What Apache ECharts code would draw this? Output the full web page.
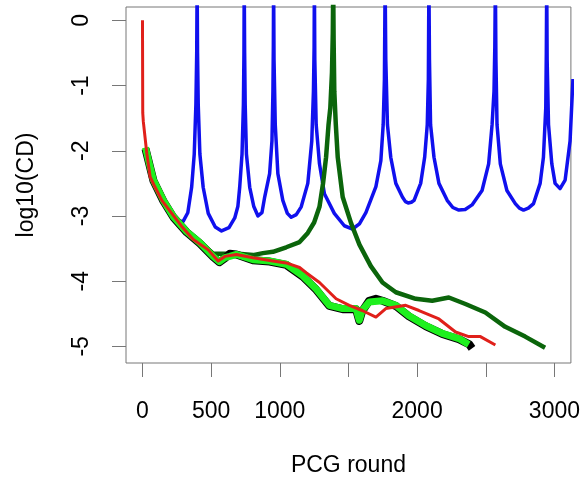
<!DOCTYPE html>
<html>
<head>
<meta charset="utf-8">
<script src="https://cdn.jsdelivr.net/npm/echarts@6/dist/echarts.min.js"></script>
<style>html,body{margin:0;padding:0;background:#fff;}#chart{width:583px;height:482px;}</style>
</head>
<body>
<div id="chart"></div>
<script>
// Tick values / labels
const xTicks = [0, 500, 1000, 1500, 2000, 2500, 3000];
const xTickLabels = [0, 500, 1000, 2000, 3000];
const yTicks = [-5, -4, -3, -2, -1, 0];

// Series values: [PCG round, log10(CD)]
const blueSeries = [
  [30,-2.0],[80,-2.45],[150,-2.76],[200,-2.95],[240,-3.04],[270,-3.08],[297,-3.08],[330,-2.95],[358,-2.56],[377,-2.05],[389,-1.29],[395,-0.5],[398,0.6],
  [401,-0.5],[406,-1.29],[418,-2.05],[442,-2.56],[479,-2.96],[530,-3.17],[576,-3.23],[630,-3.18],[672,-3.03],[695,-2.85],[708,-2.56],[725,-2.05],[735,-1.29],[739,-0.5],[741,0.6],
  [744,-0.5],[748,-1.29],[757,-2.05],[781,-2.56],[810,-2.85],[841,-3.0],[870,-2.95],[890,-2.71],[926,-2.35],[943,-1.85],[950,-1.09],[953,-0.4],[955,0.6],
  [958,-0.6],[967,-1.6],[986,-2.35],[1022,-2.76],[1055,-2.96],[1083,-3.02],[1120,-2.98],[1156,-2.86],[1204,-2.5],[1233,-1.85],[1245,-1.09],[1250,-0.4],[1252,0.6],
  [1255,-0.6],[1265,-1.6],[1289,-2.2],[1325,-2.66],[1397,-2.96],[1470,-3.15],[1530,-3.2],[1580,-3.12],[1627,-2.95],[1700,-2.55],[1736,-2.15],[1753,-1.6],[1762,-0.9],[1767,0.6],
  [1772,-0.6],[1784,-1.6],[1808,-2.1],[1845,-2.5],[1893,-2.71],[1915,-2.78],[1935,-2.8],[1958,-2.79],[1978,-2.76],[2026,-2.5],[2055,-2.1],[2074,-1.6],[2082,-0.9],[2086,0.6],
  [2090,-0.6],[2098,-1.6],[2123,-2.1],[2159,-2.5],[2219,-2.76],[2260,-2.87],[2304,-2.91],[2350,-2.9],[2400,-2.83],[2473,-2.61],[2521,-2.2],[2546,-1.6],[2560,-1.09],[2566,-0.4],[2570,0.6],
  [2574,-0.6],[2582,-1.6],[2606,-2.2],[2654,-2.61],[2715,-2.81],[2745,-2.88],[2775,-2.91],[2810,-2.88],[2848,-2.81],[2896,-2.5],[2920,-2.1],[2937,-1.34],[2941,-0.5],[2944,0.6],
  [2947,-0.6],[2957,-1.6],[2981,-2.2],[3005,-2.5],[3041,-2.58],[3078,-2.45],[3114,-1.85],[3135,-0.9]
];

const darkGreenSeries = [
  [30,-2.0],[80,-2.45],[152,-2.76],[225,-3.0],[322,-3.24],[418,-3.4],[515,-3.58],[600,-3.58],[700,-3.58],[805,-3.6],[877,-3.57],[950,-3.55],
  [1047,-3.48],[1144,-3.4],[1204,-3.26],[1250,-3.1],[1289,-2.86],[1315,-2.5],[1337,-2.1],[1355,-1.6],[1368,-1.34],[1380,-0.8],[1386,-0.2],[1389,0.5],
  [1392,-0.3],[1397,-1.09],[1408,-1.6],[1422,-2.1],[1458,-2.71],[1519,-3.11],[1580,-3.44],[1663,-3.77],[1748,-4.02],[1845,-4.17],[1990,-4.27],
  [2110,-4.3],[2231,-4.25],[2352,-4.35],[2497,-4.48],[2642,-4.7],[2787,-4.85],[2932,-5.02]
];

const blackSeries = [
  [22,-1.97],[80,-2.46],[152,-2.77],[225,-3.02],[322,-3.25],[418,-3.42],[515,-3.63],[560,-3.71],[600,-3.65],[636,-3.58],[684,-3.59],
  [805,-3.68],[926,-3.7],[1047,-3.75],[1168,-3.93],[1265,-4.13],[1361,-4.38],[1458,-4.43],[1555,-4.43],[1579,-4.61],[1600,-4.46],[1651,-4.3],
  [1700,-4.27],[1748,-4.3],[1845,-4.38],[1941,-4.54],[2062,-4.69],[2183,-4.81],[2304,-4.89],[2380,-4.97],[2400,-5.03]
];

const greenSeries = [
  [22,-1.95],[50,-2.2],[80,-2.45],[152,-2.76],[225,-3.01],[322,-3.24],[418,-3.41],[515,-3.62],[560,-3.7],[600,-3.64],[636,-3.62],[684,-3.59],
  [805,-3.67],[926,-3.69],[1047,-3.74],[1168,-3.92],[1265,-4.12],[1361,-4.37],[1458,-4.42],[1555,-4.42],[1579,-4.6],[1600,-4.45],[1651,-4.32],
  [1748,-4.3],[1845,-4.37],[1941,-4.53],[2062,-4.68],[2183,-4.8],[2304,-4.88],[2376,-4.97]
];

const redSeries = [
  [0,0],[2,-1.42],[6,-1.55],[32,-2.05],[56,-2.4],[92,-2.56],[141,-2.76],[213,-2.96],[286,-3.16],[370,-3.36],[479,-3.52],[551,-3.69],[600,-3.62],
  [684,-3.59],[805,-3.64],[950,-3.69],[1047,-3.72],[1144,-3.79],[1192,-3.87],[1289,-4.02],[1410,-4.27],[1506,-4.37],[1600,-4.45],[1700,-4.55],
  [1772,-4.42],[1917,-4.37],[2014,-4.45],[2159,-4.58],[2280,-4.78],[2376,-4.85],[2461,-4.85],[2570,-4.98]
];

const font = "'Liberation Sans', Arial, Helvetica, sans-serif";
const chart = echarts.init(document.getElementById('chart'), null, {renderer: 'canvas'});

function line(data, color, width) {
  return {
    type: 'line', data: data, showSymbol: false, symbol: 'none', clip: true,
    lineStyle: {color: color, width: width, join: 'round'},
    itemStyle: {color: color}, silent: true
  };
}

chart.setOption({
  animation: false,
  backgroundColor: '#fff',
  grid: {left: 126, right: 10, top: 7, bottom: 114, show: true, borderColor: '#777', borderWidth: 1, backgroundColor: 'transparent'},
  xAxis: {
    type: 'value', min: -120, max: 3120,
    splitLine: {show: false},
    axisLine: {show: false, onZero: false},
    axisTick: {show: true, customValues: xTicks, length: 14, inside: false, lineStyle: {color: '#777', width: 1}},
    axisLabel: {customValues: xTickLabels, fontSize: 23, fontFamily: font, color: '#000', margin: 37, formatter: v => String(v)},
    name: 'PCG round', nameLocation: 'middle', nameGap: 91,
    nameTextStyle: {fontSize: 23, fontFamily: font, color: '#000'}
  },
  yAxis: {
    type: 'value', min: -5.255, max: 0.205,
    splitLine: {show: false},
    axisLine: {show: false, onZero: false},
    axisTick: {show: true, customValues: yTicks, length: 14, inside: false, lineStyle: {color: '#777', width: 1}},
    axisLabel: {customValues: yTicks, rotate: 90, fontSize: 23, fontFamily: font, color: '#000', margin: 33, formatter: v => String(v)},
    name: 'log10(CD)', nameLocation: 'middle', nameGap: 88, nameRotate: 90,
    nameTextStyle: {fontSize: 23, fontFamily: font, color: '#000'}
  },
  series: [
    line(blueSeries, '#1010ee', 3.5),
    line(darkGreenSeries, '#0b650b', 4.5),
    line(blackSeries, '#000000', 8),
    line(greenSeries, '#1ef01e', 7),
    line(redSeries, '#e0201a', 3)
  ]
});
</script>
</body>
</html>
